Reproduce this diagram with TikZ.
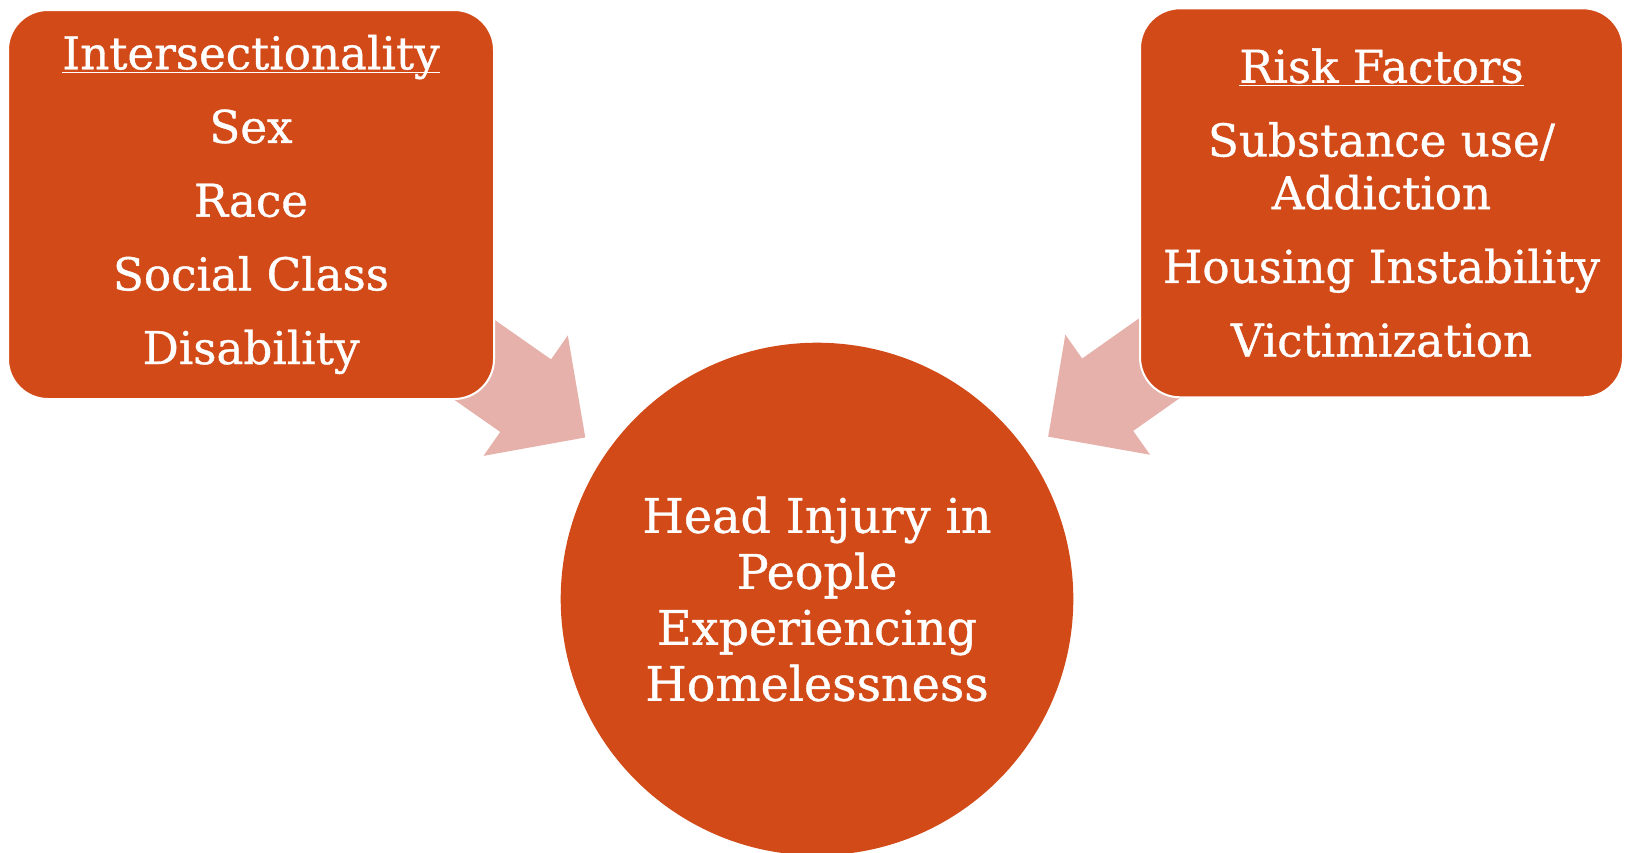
\documentclass[tikz,border=0pt]{standalone}
\usepackage{fontspec}
\setmainfont{DejaVu Serif}[FakeBold=0.8]
\usetikzlibrary{positioning, arrows.meta, backgrounds}

\definecolor{rust}{HTML}{D24A18}
\definecolor{blush}{HTML}{E6B1AA}

\newcommand{\parskipline}{\\[10.5pt]}

\begin{document}
\begin{tikzpicture}[
    x=0.5pt, y=0.5pt,
    box/.style={rectangle, rounded corners=20pt, fill=rust, draw=white, line width=1pt,
        text=white, align=center, inner sep=0pt, minimum height=194.5pt,
        font=\fontsize{22.6}{26.35}\selectfont},
    hub/.style={circle, fill=rust, text=white, align=center, inner sep=0pt,
        minimum size=256.3pt, font=\fontsize{23.8}{28}\selectfont},
    fat/.style={draw=blush, line width=44.3pt,
        -{Triangle[length=36.4pt, width=73.3pt, line width=1pt]},
        shorten >=12.9pt, shorten <=-40pt}
]
    \useasboundingbox (0,0) rectangle (1625,-852);

    % --- Caixas laterais ---
    \node[box, minimum width=243pt] (inter) at (251,-204.5)
        {\underbar{Intersectionality}\parskipline Sex\parskipline Race\parskipline
         Social Class\parskipline Disability};
    \node[box, minimum width=241.5pt] (risk) at (1381.5,-202.8)
        {\underbar{Risk Factors}\parskipline Substance use/\\ Addiction\parskipline
         Housing Instability\parskipline Victimization};

    % --- Circulo central ---
    \node[hub] (head) at (817,-599)
        {Head Injury in\\ People\\ Experiencing\\ Homelessness};

    % --- Setas convergentes ---
    \begin{scope}[on background layer]
        \draw[fat] (inter) -- (head);
        \draw[fat] (risk) -- (head);
    \end{scope}

\end{tikzpicture}
\end{document}
